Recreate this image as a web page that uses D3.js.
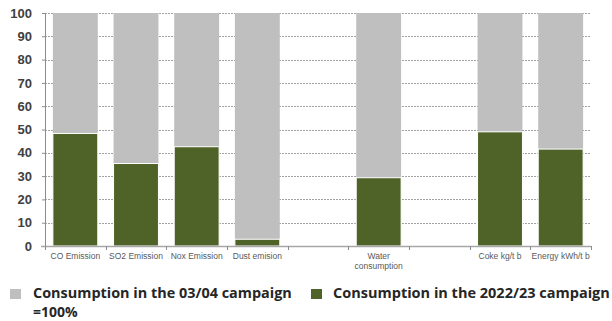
<!DOCTYPE html>
<html>
<head>
<meta charset="utf-8">
<script src="https://cdn.jsdelivr.net/npm/d3@7"></script>
<style>
  body { margin: 0; background: #fff; }
  svg { display: block; }
</style>
</head>
<body>
<svg id="chart" width="612" height="321"></svg>
<script>
// categories (blank slots are empty gaps in the original chart)
const categories = ['CO Emission', 'SO2 Emission', 'Nox Emission', 'Dust emision', '', 'Water\nconsumption', '', 'Coke kg/t b', 'Energy kWh/t b'];
const baseValues = [100, 100, 100, 100, null, 100, null, 100, 100];
const currentValues = [48.3, 35.4, 42.6, 2.9, null, 29.3, null, 49, 41.6];
const yTicks = [0, 10, 20, 30, 40, 50, 60, 70, 80, 90, 100];
const legendLabels = ['Consumption in the 03/04 campaign', 'Consumption in the 2022/23 campaign'];

const colors = { base: '#bfbfbf', current: '#4f6228' };

const margin = { top: 13, left: 45, right: 21, bottom: 75 };
const width = 612 - margin.left - margin.right;
const height = 321 - margin.top - margin.bottom;

const svg = d3.select('#chart');
const g = svg.append('g').attr('transform', `translate(${margin.left},${margin.top})`);

const x = d3.scaleBand().domain(d3.range(categories.length)).range([0, width]).paddingInner(0.26).paddingOuter(0.13);
const slot = d3.scaleBand().domain(d3.range(categories.length)).range([0, width]);
const y = d3.scaleLinear().domain([0, 100]).range([height, 0]);

// grid lines
g.append('g')
  .selectAll('line')
  .data(yTicks.filter(d => d > 0))
  .enter()
  .append('line')
  .attr('x1', 0)
  .attr('x2', width)
  .attr('y1', d => Math.round(y(d)) + 0.5)
  .attr('y2', d => Math.round(y(d)) + 0.5)
  .attr('stroke', '#8c8c8c')
  .attr('stroke-width', 0.8)
  .attr('stroke-dasharray', '2,1');

// bars
const rows = categories.map((c, i) => ({ i, base: baseValues[i], cur: currentValues[i] })).filter(d => d.base != null);

g.selectAll('.base')
  .data(rows)
  .enter()
  .append('rect')
  .attr('class', 'base')
  .attr('x', d => x(d.i))
  .attr('width', x.bandwidth())
  .attr('y', d => y(d.base))
  .attr('height', d => y(d.cur) - y(d.base))
  .attr('fill', colors.base);

g.selectAll('.cur')
  .data(rows)
  .enter()
  .append('rect')
  .attr('class', 'cur')
  .attr('x', d => x(d.i))
  .attr('width', x.bandwidth())
  .attr('y', d => y(d.cur))
  .attr('height', d => y(0) - y(d.cur))
  .attr('fill', colors.current)
  .attr('stroke', '#fff')
  .attr('stroke-width', 1);

// y axis
const yAxis = g.append('g').call(d3.axisLeft(y).tickValues(yTicks).tickSize(3).tickPadding(10));
yAxis.select('.domain').attr('stroke', '#8c8c8c').attr('d', `M-3,${y(100) + 0.5}H0.5V${height + 0.5}`);
yAxis.selectAll('.tick line').attr('stroke', '#8c8c8c');
yAxis.selectAll('.tick text')
  .attr('fill', '#404040')
  .style('font-family', 'Liberation Sans, Arial, sans-serif')
  .style('font-size', '13px')
  .style('font-weight', 'bold');

// x axis
const xg = g.append('g').attr('transform', `translate(0,${height})`);
xg.append('line')
  .attr('x1', -4).attr('x2', width)
  .attr('y1', 0.5).attr('y2', 0.5)
  .attr('stroke', '#a6a6a6').attr('stroke-width', 1.5);
xg.selectAll('.xt')
  .data(d3.range(categories.length + 1))
  .enter()
  .append('line')
  .attr('x1', d => Math.round(d * slot.step()) + 0.5)
  .attr('x2', d => Math.round(d * slot.step()) + 0.5)
  .attr('y1', 0).attr('y2', 4)
  .attr('stroke', '#8c8c8c');

const labels = xg.selectAll('.xl')
  .data(categories.map((c, i) => ({ c, i })))
  .enter()
  .append('text')
  .attr('text-anchor', 'middle')
  .attr('x', d => slot(d.i) + slot.bandwidth() / 2)
  .attr('y', 13)
  .attr('fill', '#595959')
  .style('font-family', 'Liberation Sans, Arial, sans-serif')
  .style('font-size', '8.5px');
labels.selectAll('tspan')
  .data(d => d.c.split('\n').map((t, k) => ({ t, k, x: slot(d.i) + slot.bandwidth() / 2 })))
  .enter()
  .append('tspan')
  .attr('x', d => d.x)
  .attr('dy', d => d.k === 0 ? 0 : 10)
  .text(d => d.t);

// legend
const legend = svg.append('g');
const lg = [
  { label: legendLabels[0], color: colors.base, x: 10, tx: 33, w: 259 },
  { label: legendLabels[1], color: colors.current, x: 311, tx: 333, w: 277 },
];
const legendFont = t => t
  .attr('fill', '#262626')
  .style('font-family', 'Open Sans, sans-serif')
  .style('font-size', '14px')
  .style('font-weight', 'bold');

lg.forEach(item => {
  legend.append('rect')
    .attr('x', item.x).attr('y', 289)
    .attr('width', 11).attr('height', 10)
    .attr('fill', item.color);
  const t = legend.append('text')
    .attr('x', item.tx).attr('y', 298)
    .call(legendFont)
    .text(item.label);
  // fit the label to the width it has in the original
  const len = t.node().getComputedTextLength();
  t.style('font-size', (14 * item.w / len).toFixed(2) + 'px');
});
legend.append('text')
  .attr('x', 33).attr('y', 317)
  .call(legendFont)
  .style('font-size', '14px')
  .text('=100%');
</script>
</body>
</html>
